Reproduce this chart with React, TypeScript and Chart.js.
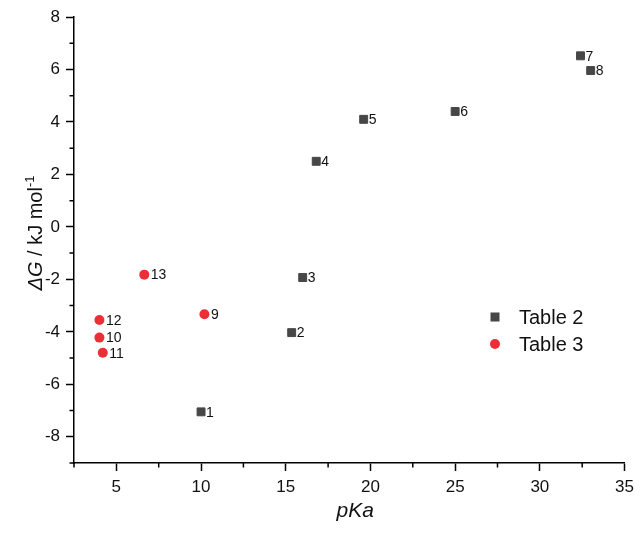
import React, { useEffect, useRef } from "react";
import { Chart, registerables } from "chart.js";

Chart.register(...registerables);

const table2Labels = ["1", "2", "3", "4", "5", "6", "7", "8"];
const table2X = [10.0, 15.35, 16.0, 16.8, 19.6, 25.0, 32.4, 33.0];
const table2Y = [-7.05, -4.03, -1.93, 2.5, 4.1, 4.4, 6.52, 5.96];

const table3Labels = ["9", "10", "11", "12", "13"];
const table3X = [10.2, 4.0, 4.2, 4.0, 6.65];
const table3Y = [-3.33, -4.22, -4.8, -3.55, -1.82];

const xMajorTicks = [5, 10, 15, 20, 25, 30, 35];
const xMinorTicks = [2.5, 7.5, 12.5, 17.5, 22.5, 27.5, 32.5];
const yMinorTicks = [-9, -7, -5, -3, -1, 1, 3, 5, 7];

const FONT = '"Liberation Sans", Arial, Helvetica, sans-serif';
const SQUARE_COLOR = "#474747";
const CIRCLE_COLOR = "#ec2f37";

const pointLabelPlugin = {
  id: "pointLabels",
  afterDatasetsDraw(chart: any) {
    const ctx = chart.ctx;
    ctx.save();
    ctx.font = `14px ${FONT}`;
    ctx.fillStyle = "#111";
    ctx.textBaseline = "middle";
    ctx.textAlign = "left";
    chart.data.datasets.forEach((ds: any, di: number) => {
      const meta = chart.getDatasetMeta(di);
      const off = di === 0 ? 5 : 6.5;
      meta.data.forEach((el: any, i: number) => {
        ctx.fillText(ds.pointLabels[i], el.x + off, el.y + 1);
      });
    });
    ctx.restore();
  },
};

const decorPlugin = {
  id: "decor",
  afterDraw(chart: any) {
    const ctx = chart.ctx;
    const area = chart.chartArea;
    const xs = chart.scales.x;
    const ys = chart.scales.y;
    ctx.save();
    // minor ticks
    ctx.strokeStyle = "#000";
    ctx.lineWidth = 1.5;
    ctx.beginPath();
    xMinorTicks.forEach((v) => {
      const px = xs.getPixelForValue(v);
      ctx.moveTo(px, area.bottom);
      ctx.lineTo(px, area.bottom + 4.5);
    });
    yMinorTicks.forEach((v) => {
      const py = ys.getPixelForValue(v);
      ctx.moveTo(area.left, py);
      ctx.lineTo(area.left - 4.5, py);
    });
    ctx.stroke();

    // x title
    ctx.fillStyle = "#111";
    ctx.font = `italic 21px ${FONT}`;
    ctx.textAlign = "center";
    ctx.textBaseline = "alphabetic";
    ctx.fillText("pKa", (area.left + area.right) / 2 + 6, 517);

    // y title
    const cy = (area.top + area.bottom) / 2 - 7;
    ctx.translate(42, cy);
    ctx.rotate(-Math.PI / 2);
    ctx.textAlign = "left";
    const parts = [
      { t: "\u0394G", f: `italic 20px ${FONT}`, dy: 0 },
      { t: " / kJ mol", f: `20px ${FONT}`, dy: 0 },
      { t: "-1", f: `13px ${FONT}`, dy: -8 },
    ];
    let total = 0;
    parts.forEach((p) => {
      ctx.font = p.f;
      total += ctx.measureText(p.t).width;
    });
    let x = -total / 2;
    parts.forEach((p) => {
      ctx.font = p.f;
      ctx.fillText(p.t, x, p.dy);
      x += ctx.measureText(p.t).width;
    });
    ctx.restore();

    // legend
    ctx.save();
    const lx = area.left + 421;
    const ly = area.top + 300;
    ctx.fillStyle = SQUARE_COLOR;
    ctx.fillRect(lx - 4.5, ly - 4.5, 9, 9);
    ctx.fillStyle = CIRCLE_COLOR;
    ctx.beginPath();
    ctx.arc(lx, ly + 27, 5, 0, Math.PI * 2);
    ctx.fill();
    ctx.fillStyle = "#111";
    ctx.font = `20px ${FONT}`;
    ctx.textBaseline = "middle";
    ctx.textAlign = "left";
    ctx.fillText(chart.data.datasets[0].label, lx + 24, ly + 1);
    ctx.fillText(chart.data.datasets[1].label, lx + 24, ly + 28);
    ctx.restore();
  },
};

export default function App() {
  const ref = useRef<HTMLCanvasElement>(null);
  useEffect(() => {
    if (!ref.current) return;
    const chart = new Chart(ref.current, {
      type: "scatter",
      data: {
        datasets: [
          {
            label: "Table 2",
            data: table2X.map((x, i) => ({ x, y: table2Y[i] })),
            pointLabels: table2Labels,
            pointStyle: "rect",
            pointRadius: 5.6,
            pointHoverRadius: 5.6,
            backgroundColor: SQUARE_COLOR,
            borderColor: SQUARE_COLOR,
            borderWidth: 1,
          } as any,
          {
            label: "Table 3",
            data: table3X.map((x, i) => ({ x, y: table3Y[i] })),
            pointLabels: table3Labels,
            pointStyle: "circle",
            pointRadius: 5,
            pointHoverRadius: 5,
            backgroundColor: CIRCLE_COLOR,
            borderColor: CIRCLE_COLOR,
            borderWidth: 0,
          } as any,
        ],
      },
      options: {
        responsive: false,
        animation: false,
        layout: { padding: { top: 17, right: 12, left: 0, bottom: 0 } },
        plugins: {
          legend: { display: false },
          tooltip: { enabled: false },
        },
        scales: {
          x: {
            type: "linear",
            min: 2.5,
            max: 35,
            afterFit: (s: any) => {
              s.height = 70;
            },
            afterBuildTicks: (s: any) => {
              s.ticks = xMajorTicks.map((v) => ({ value: v }));
            },
            ticks: {
              includeBounds: false,
              stepSize: 5,
              color: "#111",
              font: { family: FONT, size: 17 },
              padding: 6,
              maxRotation: 0,
            },
            grid: {
              display: true,
              drawOnChartArea: false,
              drawTicks: true,
              tickLength: 8,
              tickColor: "#000",
              tickWidth: 1.5,
            },
            border: { display: true, color: "#000", width: 1.5 },
          },
          y: {
            type: "linear",
            min: -9,
            max: 8,
            afterFit: (s: any) => {
              s.width = 74;
            },
            ticks: {
              includeBounds: false,
              stepSize: 2,
              color: "#111",
              font: { family: FONT, size: 17 },
              padding: 6,
            },
            grid: {
              display: true,
              drawOnChartArea: false,
              drawTicks: true,
              tickLength: 8,
              tickColor: "#000",
              tickWidth: 1.5,
            },
            border: { display: true, color: "#000", width: 1.5 },
          },
        },
      } as any,
      plugins: [pointLabelPlugin, decorPlugin],
    });
    return () => chart.destroy();
  }, []);

  return (
    <div style={{ position: "absolute", left: 0, top: 0, width: 640, height: 533, background: "#fff" }}>
      <canvas ref={ref} width={640} height={533} style={{ display: "block" }} />
    </div>
  );
}
